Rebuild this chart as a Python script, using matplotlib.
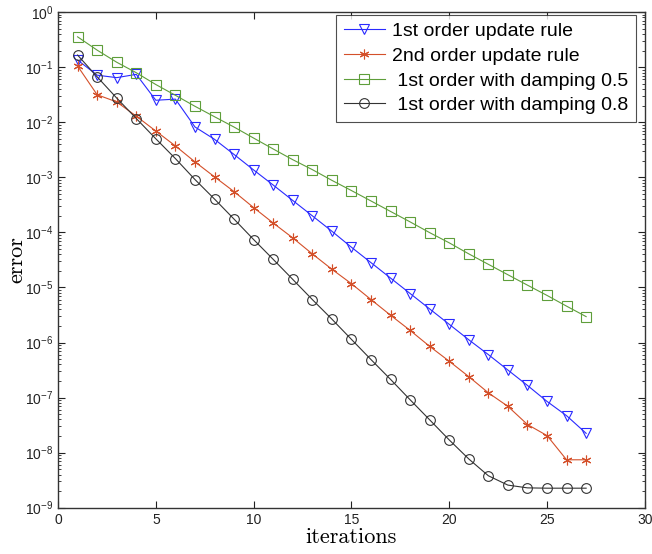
import matplotlib
matplotlib.use("Agg")
import matplotlib.pyplot as plt
from matplotlib.ticker import LogLocator, NullFormatter, FixedLocator

iterations = list(range(1, 28))

err_first_order = [0.135, 0.0716, 0.0646, 0.0741, 0.0251, 0.0263, 8.22e-3, 4.90e-3,
                   2.60e-3, 1.36e-3, 7.24e-4, 3.80e-4, 2.00e-4, 1.05e-4, 5.37e-5,
                   2.82e-5, 1.48e-5, 7.76e-6, 4.07e-6, 2.14e-6, 1.12e-6, 6.03e-7,
                   3.16e-7, 1.66e-7, 8.51e-8, 4.68e-8, 2.24e-8]
err_second_order = [0.105, 0.0316, 0.0234, 0.0129, 6.92e-3, 3.72e-3, 1.91e-3, 1.02e-3,
                    5.50e-4, 2.82e-4, 1.48e-4, 7.94e-5, 4.07e-5, 2.14e-5, 1.17e-5,
                    6.03e-6, 3.13e-6, 1.66e-6, 8.51e-7, 4.57e-7, 2.40e-7, 1.22e-7,
                    6.92e-8, 3.24e-8, 2.04e-8, 7.41e-9, 7.41e-9]
err_damping_05 = [0.356, 0.204, 0.123, 0.0794, 0.0484, 0.0309, 0.0195, 0.0126,
                  8.18e-3, 5.16e-3, 3.27e-3, 2.09e-3, 1.38e-3, 8.81e-4, 5.75e-4,
                  3.72e-4, 2.40e-4, 1.55e-4, 9.89e-5, 6.46e-5, 4.07e-5, 2.63e-5,
                  1.70e-5, 1.10e-5, 7.16e-6, 4.57e-6, 2.95e-6]
err_damping_08 = [0.166, 0.0668, 0.0275, 0.0117, 5.01e-3, 2.19e-3, 9.12e-4, 4.03e-4,
                  1.74e-4, 7.41e-5, 3.24e-5, 1.40e-5, 6.03e-6, 2.66e-6, 1.14e-6,
                  4.90e-7, 2.14e-7, 9.12e-8, 3.94e-8, 1.70e-8, 7.67e-9, 3.80e-9,
                  2.57e-9, 2.29e-9, 2.26e-9, 2.26e-9, 2.26e-9]

labels = ["1st order update rule", "2nd order update rule",
          " 1st order with damping 0.5", " 1st order with damping 0.8"]
x_ticks = [0, 5, 10, 15, 20, 25, 30]

plt.rcParams['font.family'] = ['Liberation Sans', 'DejaVu Sans']

fig = plt.figure(figsize=(6.52, 5.54), dpi=100)
ax = fig.add_axes([0.089, 0.0836, 0.900, 0.8945])

lw = 0.8
ax.plot(iterations, err_first_order, color='#2a2aff', lw=lw, marker='v',
        markersize=7.5, markerfacecolor='none', markeredgewidth=0.8, label=labels[0])
ax.plot(iterations, err_second_order, color='#d4502a', lw=lw, marker=(6, 2, 0),
        markersize=7, markeredgewidth=0.8, label=labels[1])
ax.plot(iterations, err_damping_05, color='#5e9e3a', lw=lw, marker='s',
        markersize=6.5, markerfacecolor='none', markeredgewidth=0.8, label=labels[2])
ax.plot(iterations, err_damping_08, color='#333333', lw=lw, marker='o',
        markersize=7, markerfacecolor='none', markeredgewidth=0.8, label=labels[3])

ax.set_yscale('log')
ax.set_xlim(0, 30)
ax.set_ylim(1e-9, 1e0)
ax.xaxis.set_major_locator(FixedLocator(x_ticks))
ax.yaxis.set_major_locator(LogLocator(base=10, numticks=20))
ax.yaxis.set_minor_locator(LogLocator(base=10, subs=range(2, 10), numticks=20))
ax.yaxis.set_minor_formatter(NullFormatter())

ax.tick_params(which='both', direction='in', top=True, right=True, labelsize=10,
               colors='#222222')
ax.tick_params(which='major', length=5, width=0.8)
ax.tick_params(which='minor', length=2.5, width=0.6)
for s in ax.spines.values():
    s.set_linewidth(1.0)
    s.set_color('#333333')

ax.set_xlabel('iterations', fontfamily='cmr10', fontsize=16, labelpad=1)
ax.set_ylabel('error', fontfamily='cmr10', fontsize=16, labelpad=-1)

leg = ax.legend(loc='upper right', bbox_to_anchor=(0.985, 0.994), borderaxespad=0,
                fontsize=14, handlelength=2.15, frameon=True,
                fancybox=False, edgecolor='#222222',
                labelspacing=0.36, borderpad=0.39, handletextpad=0.35)
leg.get_frame().set_linewidth(0.8)

fig.savefig('out.png', dpi=100)
